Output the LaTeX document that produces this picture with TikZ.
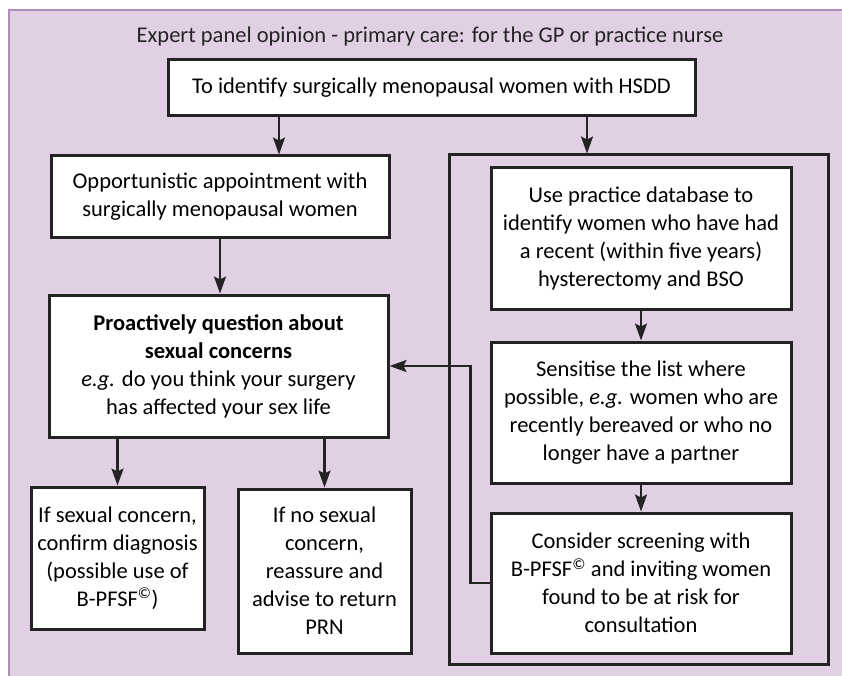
\documentclass[tikz,border=0pt]{standalone}
\usepackage{fontspec}
\setmainfont{Carlito}
\usepackage{xcolor}
\definecolor{panel-lilac}{RGB}{225,208,228}
\definecolor{panel-edge}{RGB}{176,140,184}
\definecolor{box-line}{RGB}{35,35,35}
\usepackage{tikz}
\usetikzlibrary{arrows.meta,calc}

\begin{document}
\begin{tikzpicture}[x=1pt,y=-1pt,
	box/.style={draw=box-line,line width=3pt,fill=white,align=center,
		inner sep=0pt,font=\fontsize{22.5}{28}\selectfont},
	arr/.style={draw=box-line,line width=2.2pt,
		-{Stealth[length=17pt,width=12pt,inset=3pt]}}]
	\useasboundingbox (0,0) rectangle (842,676);
	\fill[panel-lilac] (9,10) rectangle (860,690);
	\draw[panel-edge,line width=1.5pt] (860,10) -- (9,10) -- (9,690);
	
	\node[font=\fontsize{22.5}{26}\selectfont,text=box-line] (title) at (430,37)
	{Expert panel opinion - primary care: for the GP or practice nurse};
	
	\node[box,minimum width=527pt,minimum height=56pt] (goal) at (431.5,88)
	{To identify surgically menopausal women with HSDD};
	
%	================================================ left column
	\node[box,minimum width=338pt,minimum height=81pt] (appt) at (220,196.5)
	{Opportunistic appointment with\\surgically menopausal women};
	\node[box,minimum width=339pt,minimum height=142pt] (ask) at (218.5,366)
	{\textbf{Proactively question about}\\\textbf{sexual concerns}\\
		\textit{e.g.} do you think your surgery\\has affected your sex life};
	\node[box,minimum width=173pt,minimum height=142pt] (yes) at (117.5,558)
	{If sexual concern,\\confirm diagnosis\\(possible use of\\
		B-PFSF\textsuperscript{\textcopyright})};
	\node[box,minimum width=173pt,minimum height=164pt] (no) at (324.5,571)
	{If no sexual\\concern,\\reassure and\\advise to return\\PRN};
	
%	================================================ right column
	\node[draw=box-line,line width=3pt,minimum width=379pt,
	minimum height=509pt] (route) at (638.5,409.5) {};
	\node[box,minimum width=300pt,minimum height=141pt] (db) at (641,238.5)
	{Use practice database to\\identify women who have had\\
		a recent (within five years)\\hysterectomy and BSO};
	\node[box,minimum width=300pt,minimum height=141pt] (list) at (641,412.5)
	{Sensitise the list where\\possible, \textit{e.g.} women who are\\
		recently bereaved or who no\\longer have a partner};
	\node[box,minimum width=300pt,minimum height=140pt] (screen) at (641,583)
	{Consider screening with\\B-PFSF\textsuperscript{\textcopyright} and inviting women\\
		found to be at risk for\\consultation};
	
%	================================================ arrows
	\coordinate (split-l) at (279,0);
	\coordinate (split-r) at (587,0);
	\draw[arr] (goal.south -| split-l) -- (appt.north -| split-l);
	\draw[arr] (goal.south -| split-r) -- (route.north -| split-r);
	\draw[arr] (appt.south) -- (appt.south |- ask.north);
	\draw[arr] (yes.north |- ask.south) -- (yes.north);
	\draw[arr] (no.north |- ask.south) -- (no.north);
	\draw[arr] (db.south) -- (list.north);
	\draw[arr] (list.south) -- (screen.north);
	\draw[arr] (screen.west) -- ++(-19,0) |- (ask.east);
	
\end{tikzpicture}
\end{document}
